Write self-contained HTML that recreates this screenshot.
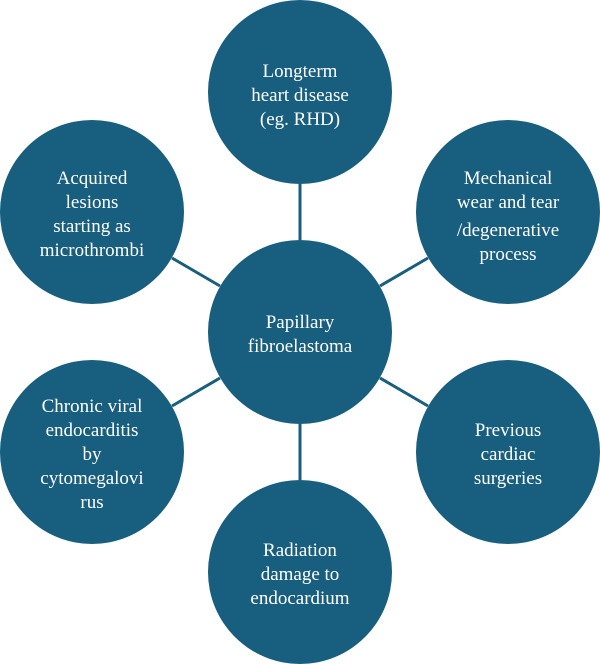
<!DOCTYPE html>
<html><head><style>body{margin:0;background:#fff}svg{display:block}</style></head><body>
<svg width="600" height="664" xmlns="http://www.w3.org/2000/svg" font-family="Liberation Serif, serif" font-size="19" fill="#fff" text-anchor="middle">
<g stroke="#185e7e" stroke-width="3">
<line x1="300" y1="184" x2="300" y2="240"/>
<line x1="300" y1="424" x2="300" y2="480"/>
<line x1="172" y1="258" x2="220" y2="286"/>
<line x1="428" y1="258" x2="380" y2="286"/>
<line x1="172" y1="406" x2="220" y2="378"/>
<line x1="428" y1="406" x2="380" y2="378"/>
</g>
<g fill="#185e7e">
<circle cx="300" cy="332" r="92"/>
<circle cx="300" cy="92" r="92"/>
<circle cx="300" cy="572" r="92"/>
<circle cx="92" cy="212" r="92"/>
<circle cx="508" cy="212" r="92"/>
<circle cx="92" cy="452" r="92"/>
<circle cx="508" cy="452" r="92"/>
</g>
<text x="300" y="328">Papillary</text><text x="300" y="352">fibroelastoma</text>
<text x="300" y="77">Longterm</text><text x="300" y="101">heart disease</text><text x="300" y="125">(eg. RHD)</text>
<text x="92" y="184">Acquired</text><text x="92" y="208">lesions</text><text x="92" y="232">starting as</text><text x="92" y="256">microthrombi</text>
<text x="508" y="184">Mechanical</text><text x="508" y="208">wear and tear</text><text x="508" y="236">/degenerative</text><text x="508" y="260">process</text>
<text x="92" y="412">Chronic viral</text><text x="92" y="436">endocarditis</text><text x="92" y="460">by</text><text x="92" y="484">cytomegalovi</text><text x="92" y="508">rus</text>
<text x="508" y="436">Previous</text><text x="508" y="460">cardiac</text><text x="508" y="484">surgeries</text>
<text x="300" y="556">Radiation</text><text x="300" y="580">damage to</text><text x="300" y="604">endocardium</text>
</svg>
</body></html>
